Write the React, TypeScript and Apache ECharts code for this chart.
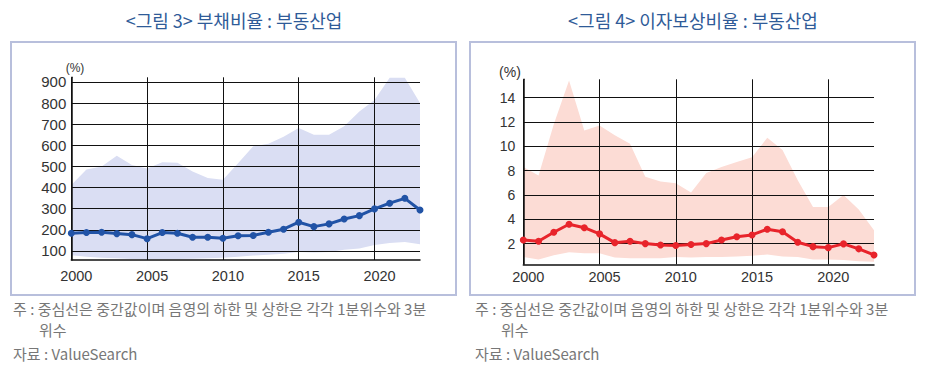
import React, { useEffect, useRef } from "react";
import * as echarts from "echarts";

const years = ["2000","2001","2002","2003","2004","2005","2006","2007","2008","2009","2010","2011","2012","2013","2014","2015","2016","2017","2018","2019","2020","2021","2022","2023"];

const debtUpper = [412, 485, 500, 550, 507, 490, 520, 518, 476, 445, 437, 515, 595, 607, 640, 682, 650, 650, 690, 760, 815, 920, 920, 800];
const debtLower = [80, 72, 68, 65, 62, 60, 62, 62, 63, 65, 68, 72, 78, 82, 86, 95, 92, 95, 105, 112, 128, 138, 142, 132];
const debtMedian = [184, 187, 188, 182, 177, 158, 187, 184, 165, 165, 160, 172, 173, 188, 203, 236, 215, 228, 251, 267, 299, 326, 349, 294];

const icrUpper = [8.3, 7.6, 11.8, 15.4, 11.3, 11.7, 10.9, 10.2, 7.5, 7.1, 6.95, 6.2, 7.8, 8.3, 8.7, 9.1, 10.7, 9.7, 7.2, 5.0, 5.0, 6.0, 4.8, 3.1];
const icrLower = [0.9, 0.7, 1.05, 1.3, 1.2, 1.2, 0.85, 0.8, 0.8, 0.8, 0.9, 0.85, 0.9, 0.9, 0.95, 1.0, 1.1, 0.95, 0.9, 0.7, 0.7, 0.65, 0.55, 0.5];
const icrMedian = [2.3, 2.2, 2.93, 3.59, 3.31, 2.8, 2.08, 2.2, 2.0, 1.89, 1.84, 1.92, 2.0, 2.3, 2.57, 2.71, 3.18, 2.98, 2.11, 1.75, 1.67, 1.98, 1.57, 1.07];

const debtTicks = [100, 200, 300, 400, 500, 600, 700, 800, 900];
const icrTicks = [2, 4, 6, 8, 10, 12, 14];

const title3 = "<그림 3> 부채비율 : 부동산업";
const title4 = "<그림 4> 이자보상비율 : 부동산업";
const note1 = "주 : 중심선은 중간값이며 음영의 하한 및 상한은 각각 1분위수와 3분";
const note2 = "위수";
const source = "자료 : ValueSearch";
const unit = "(%)";

const KR = '"Noto Sans CJK KR", "Noto Sans", sans-serif';
const NUM = '"Liberation Sans", Arial, sans-serif';

export default function App() {
  const ref = useRef<HTMLDivElement>(null);
  useEffect(() => {
    if (!ref.current) return;
    const chart = echarts.init(ref.current, null, { renderer: "svg" });
    const tickEvery5 = (i: number) => i % 5 === 0;
    const xAxisBase = (gridIndex: number, margin: number) => ({
      type: "category",
      gridIndex,
      data: years,
      boundaryGap: false,
      z: 3,
      axisLine: { show: true, lineStyle: { color: "#111", width: 1.5 } },
      axisTick: { show: false },
      axisLabel: {
        interval: tickEvery5,
        fontFamily: NUM,
        fontSize: 14.5,
        color: "#333",
        margin,
        padding: [0, 0, 0, 10],
      },
      splitLine: { show: true, interval: tickEvery5, lineStyle: { color: "#111", width: 1 } },
    });
    const diff = (u: number[], l: number[]) => u.map((v, i) => +(v - l[i]).toFixed(3));
    const option: any = {
      animation: false,
      grid: [
        { left: 71.3, top: 77.3, width: 348.7, height: 182.7 },
        { left: 523.3, top: 79.3, width: 350.7, height: 185 },
      ],
      xAxis: [xAxisBase(0, 8), xAxisBase(1, 5)],
      yAxis: [
        {
          type: "value",
          gridIndex: 0,
          min: 57,
          max: 922,
          z: 3,
          axisLine: { show: true, lineStyle: { color: "#111", width: 1.5 } },
          axisTick: { show: false, customValues: debtTicks },
          axisLabel: {
            customValues: debtTicks,
            fontFamily: NUM,
            fontSize: 15,
            color: "#333",
            margin: 5,
            padding: [0, 0, 8, 0],
          },
          splitLine: { show: true, lineStyle: { color: "#111", width: 1 } },
        },
        {
          type: "value",
          gridIndex: 1,
          min: 0.3,
          max: 15.5,
          z: 3,
          axisLine: { show: true, lineStyle: { color: "#111", width: 1.5 } },
          axisTick: { show: false, customValues: icrTicks },
          axisLabel: {
            customValues: icrTicks,
            fontFamily: NUM,
            fontSize: 14,
            color: "#333",
            margin: 8,
            padding: [0, 0, 7, 0],
          },
          splitLine: { show: true, lineStyle: { color: "#111", width: 1 } },
        },
      ],
      series: [
        {
          type: "line", xAxisIndex: 0, yAxisIndex: 0, stack: "d", data: debtLower, z: 1,
          symbol: "none", lineStyle: { opacity: 0 }, silent: true,
        },
        {
          type: "line", xAxisIndex: 0, yAxisIndex: 0, stack: "d", data: diff(debtUpper, debtLower), z: 1,
          symbol: "none", lineStyle: { opacity: 0 }, areaStyle: { color: "#dadef3", opacity: 1 }, silent: true,
        },
        {
          type: "line", xAxisIndex: 0, yAxisIndex: 0, data: debtMedian, z: 5,
          symbol: "circle", symbolSize: 7,
          lineStyle: { color: "#2153a6", width: 3 }, itemStyle: { color: "#2153a6" },
        },
        {
          type: "line", xAxisIndex: 1, yAxisIndex: 1, stack: "i", data: icrLower, z: 1,
          symbol: "none", lineStyle: { opacity: 0 }, silent: true,
        },
        {
          type: "line", xAxisIndex: 1, yAxisIndex: 1, stack: "i", data: diff(icrUpper, icrLower), z: 1,
          symbol: "none", lineStyle: { opacity: 0 }, areaStyle: { color: "#fcdcd5", opacity: 1 }, silent: true,
        },
        {
          type: "line", xAxisIndex: 1, yAxisIndex: 1, data: icrMedian, z: 5,
          symbol: "circle", symbolSize: 7,
          lineStyle: { color: "#e8242b", width: 3 }, itemStyle: { color: "#e8242b" },
        },
      ],
      graphic: [
        { type: "rect", shape: { x: 11, y: 42, width: 445, height: 253 }, style: { fill: "none", stroke: "#b8bfdc", lineWidth: 2 } },
        { type: "rect", shape: { x: 470, y: 42, width: 445, height: 253 }, style: { fill: "none", stroke: "#b8bfdc", lineWidth: 2 } },
        { type: "text", x: 234, y: 20, style: { text: title3, font: `18px ${KR}`, fill: "#2f5b98", align: "center", verticalAlign: "middle" } },
        { type: "text", x: 693, y: 20, style: { text: title4, font: `18px ${KR}`, fill: "#2f5b98", align: "center", verticalAlign: "middle" } },
        { type: "text", x: 75, y: 68, style: { text: unit, font: `12px ${NUM}`, fill: "#333", align: "center", verticalAlign: "middle" } },
        { type: "text", x: 510, y: 72, style: { text: unit, font: `14px ${NUM}`, fill: "#333", align: "center", verticalAlign: "middle" } },
        { type: "text", x: 13, y: 308, style: { text: note1, font: `15px ${KR}`, fill: "#777", verticalAlign: "middle" } },
        { type: "text", x: 39, y: 329, style: { text: note2, font: `15px ${KR}`, fill: "#777", verticalAlign: "middle" } },
        { type: "text", x: 13, y: 353, style: { text: source, font: `15px ${KR}`, fill: "#777", verticalAlign: "middle" } },
        { type: "text", x: 475, y: 308, style: { text: note1, font: `15px ${KR}`, fill: "#777", verticalAlign: "middle" } },
        { type: "text", x: 501, y: 329, style: { text: note2, font: `15px ${KR}`, fill: "#777", verticalAlign: "middle" } },
        { type: "text", x: 475, y: 353, style: { text: source, font: `15px ${KR}`, fill: "#777", verticalAlign: "middle" } },
      ],
    };
    chart.setOption(option);
    return () => chart.dispose();
  }, []);
  return (
    <div
      ref={ref}
      style={{ position: "absolute", left: 0, top: 0, width: 926, height: 373, background: "#fff" }}
    />
  );
}
